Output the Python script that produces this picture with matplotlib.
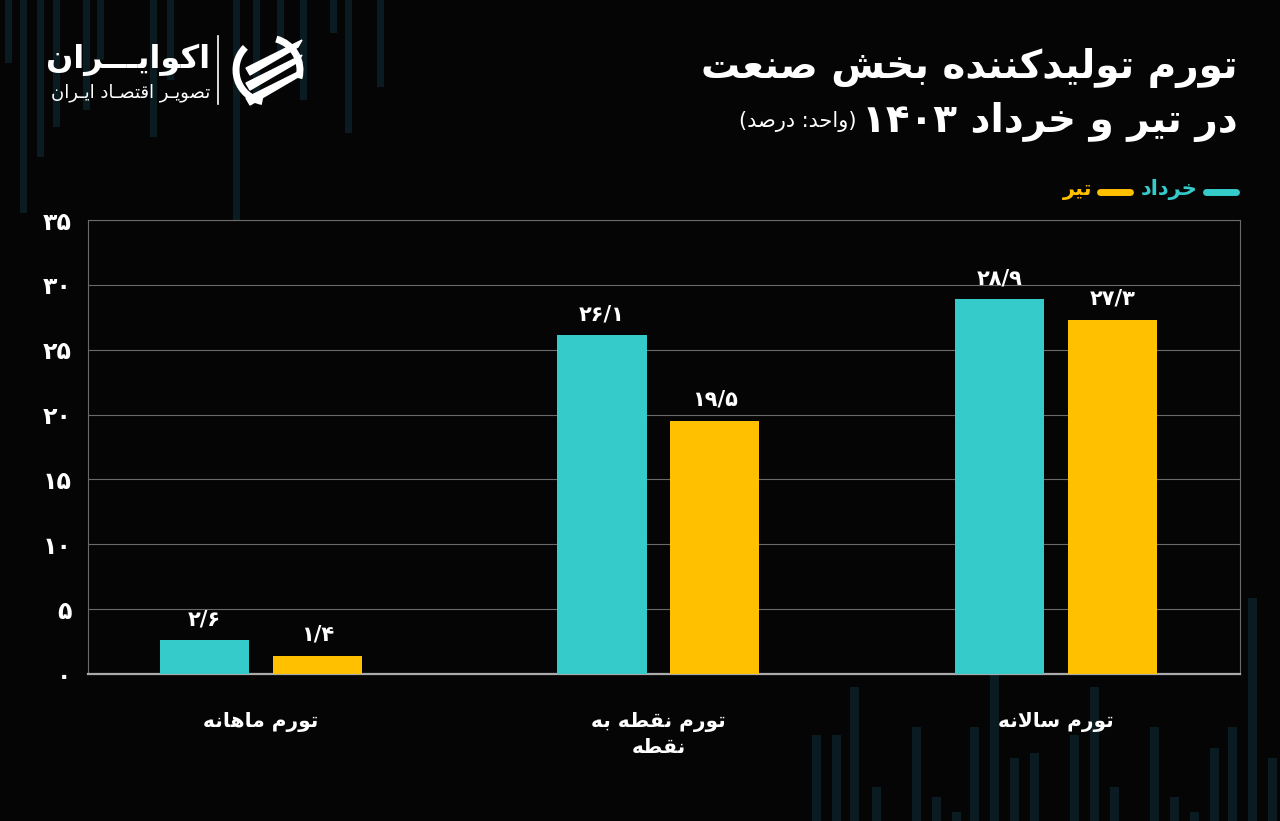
import re
import matplotlib
matplotlib.use('Agg')
import matplotlib.pyplot as plt
import numpy as np
from matplotlib.patches import Arc, Polygon

# ---- data ----
categories = ['تورم ماهانه', 'تورم نقطه به\nنقطه', 'تورم سالانه']
khordad = [2.6, 26.1, 28.9]
tir = [1.4, 19.5, 27.3]
yticks = [0, 5, 10, 15, 20, 25, 30, 35]
series_names = ['خرداد', 'تیر']
title1 = 'تورم تولیدکننده بخش صنعت'
title2 = 'در تیر و خرداد ۱۴۰۳'
unit_txt = '(واحد: درصد)'
logo_name = 'اکوایـــران'
logo_sub = 'تصویـر اقتصـاد ایـران'

# faint background candles (pixels): left x and bottom / top end
deco_top_x = [5, 20, 37, 53, 83, 97, 150, 167, 233, 253, 277, 300, 330, 345, 377]
deco_top_y = [63, 213, 157, 127, 110, 60, 137, 80, 220, 100, 57, 100, 33, 133, 87]
deco_bot_x = [812, 832, 850, 872, 912, 932, 952, 970, 990, 1010, 1030, 1070, 1090,
              1110, 1150, 1170, 1190, 1210, 1228, 1248, 1268]
deco_bot_y = [735, 735, 687, 787, 727, 797, 812, 727, 675, 758, 753, 735, 687,
              787, 727, 797, 812, 748, 727, 598, 758]

CYAN = '#35CBCB'
YELLOW = '#FFC000'
BG = '#050505'
DECO = '#0a1c22'

# ---- minimal Arabic/Persian shaping (no reshaper libs available) ----
F = {
    'ا': ('\uFE8D', '\uFE8E', None, None),
    'ب': ('\uFE8F', '\uFE90', '\uFE91', '\uFE92'),
    'ت': ('\uFE95', '\uFE96', '\uFE97', '\uFE98'),
    'ح': ('\uFEA1', '\uFEA2', '\uFEA3', '\uFEA4'),
    'خ': ('\uFEA5', '\uFEA6', '\uFEA7', '\uFEA8'),
    'د': ('\uFEA9', '\uFEAA', None, None),
    'ر': ('\uFEAD', '\uFEAE', None, None),
    'س': ('\uFEB1', '\uFEB2', '\uFEB3', '\uFEB4'),
    'ش': ('\uFEB5', '\uFEB6', '\uFEB7', '\uFEB8'),
    'ص': ('\uFEB9', '\uFEBA', '\uFEBB', '\uFEBC'),
    'ط': ('\uFEC1', '\uFEC2', '\uFEC3', '\uFEC4'),
    'ع': ('\uFEC9', '\uFECA', '\uFECB', '\uFECC'),
    'ق': ('\uFED5', '\uFED6', '\uFED7', '\uFED8'),
    'ل': ('\uFEDD', '\uFEDE', '\uFEDF', '\uFEE0'),
    'م': ('\uFEE1', '\uFEE2', '\uFEE3', '\uFEE4'),
    'ن': ('\uFEE5', '\uFEE6', '\uFEE7', '\uFEE8'),
    'ه': ('\uFEE9', '\uFEEA', '\uFEEB', '\uFEEC'),
    'و': ('\uFEED', '\uFEEE', None, None),
    'ک': ('\uFB8E', '\uFB8F', '\uFB90', '\uFB91'),
    'ی': ('\uFBFC', '\uFBFD', '\uFBFE', '\uFBFF'),
    'ـ': ('ـ', 'ـ', 'ـ', 'ـ'),
}


def fa_line(text):
    ch = list(text)
    res = []
    i = 0
    while i < len(ch):
        c = ch[i]
        prev = ch[i - 1] if i > 0 else None
        jp = c in F and prev in F and F[prev][2] is not None
        if c == 'ل' and i + 1 < len(ch) and ch[i + 1] == 'ا':
            res.append('\uFEFC' if jp else '\uFEFB')
            i += 2
            continue
        if c in F:
            f = F[c]
            nxt = ch[i + 1] if i + 1 < len(ch) else None
            jn = f[2] is not None and nxt in F
            if jp and jn:
                res.append(f[3])
            elif jp:
                res.append(f[1])
            elif jn:
                res.append(f[2])
            else:
                res.append(f[0])
        else:
            res.append(c)
        i += 1
    vis = ''.join(reversed(res))
    vis = re.sub(r'[۰-۹0-9/]+', lambda m: m.group(0)[::-1], vis)
    return vis.translate(str.maketrans('()', ')('))


def fa(text):
    return '\n'.join(fa_line(l) for l in text.split('\n'))


def fa_num(v, dec=True):
    s = f'{v:.1f}' if dec else str(v)
    return s.translate(str.maketrans('0123456789.', '۰۱۲۳۴۵۶۷۸۹/'))


plt.rcParams['font.family'] = ['DejaVu Sans']

W, H = 1280, 821
fig = plt.figure(figsize=(W / 100, H / 100), dpi=100, facecolor=BG)

# background layer in pixel coordinates
bg = fig.add_axes([0, 0, 1, 1])
bg.set_xlim(0, W)
bg.set_ylim(H, 0)
bg.axis('off')
bg.bar(deco_top_x, deco_top_y, width=7, bottom=0, align='edge', color=DECO, zorder=0)
bg.bar(deco_bot_x, [H - y for y in deco_bot_y], width=9, bottom=deco_bot_y, align='edge',
       color=DECO, zorder=0)

# ---- chart ----
ax = fig.add_axes([88 / W, 1 - 674 / H, 1152 / W, 454 / H])
ax.set_facecolor('none')
x = np.arange(len(categories))
bw = 0.224
off = 0.142
b1 = ax.bar(x - off, khordad, bw, color=CYAN, zorder=3)
b2 = ax.bar(x + off, tir, bw, color=YELLOW, zorder=3)
for bars, vals in ((b1, khordad), (b2, tir)):
    for r, v in zip(bars, vals):
        ax.annotate(fa_num(v), (r.get_x() + r.get_width() / 2, v), xytext=(0, 8),
                    textcoords='offset points', ha='center', va='bottom',
                    color='white', fontsize=15, fontweight='bold')

ax.set_xlim(-0.435, 2.463)
ax.set_ylim(0, 35)
ax.set_yticks(yticks)
ax.set_yticklabels([fa_num(t, dec=False) for t in yticks], color='white',
                   fontsize=17, fontweight='bold')
ax.set_xticks(x)
ax.set_xticklabels([fa(c) for c in categories], color='white', fontsize=14.5,
                   fontweight='bold', linespacing=1.45)
ax.tick_params(axis='y', length=0, pad=12)
ax.tick_params(axis='x', length=0, pad=27)
ax.grid(axis='y', color='#6a6a6a', linewidth=0.8, zorder=0)
for s in ax.spines.values():
    s.set_color('#6a6a6a')
    s.set_linewidth(0.8)
ax.spines['bottom'].set_color('#aaaaaa')
ax.spines['bottom'].set_linewidth(1.6)

# ---- titles ----
fig.text(1238 / W, 1 - 68 / H, fa(title1), ha='right', va='center', color='white',
         fontsize=28, fontweight='bold')
t2 = fig.text(1238 / W, 1 - 122 / H, fa(title2), ha='right', va='center', color='white',
              fontsize=28, fontweight='bold')
fig.canvas.draw()
bb = t2.get_window_extent()
fig.text((bb.x0 - 6) / W, 1 - 122 / H, fa(unit_txt), ha='right', va='center',
         color='white', fontsize=15)

# ---- legend ----
bg.plot([1206, 1236], [192, 192], color=CYAN, lw=5, solid_capstyle='round')
bg.text(1197, 190, fa(series_names[0]), ha='right', va='center', color=CYAN,
        fontsize=15, fontweight='bold')
bg.plot([1100, 1130], [192, 192], color=YELLOW, lw=5, solid_capstyle='round')
bg.text(1092, 190, fa(series_names[1]), ha='right', va='center', color=YELLOW,
        fontsize=15, fontweight='bold')

# ---- logo ----
bg.text(210, 60, fa(logo_name), ha='right', va='center', color='white',
        fontsize=23, fontweight='bold')
bg.text(210, 93, fa(logo_sub), ha='right', va='center', color='white', fontsize=13)
bg.plot([218, 218], [36, 104], color='white', lw=1.2)
cx, cy, rr = 268, 70, 32
bg.add_patch(Arc((cx, cy), 2 * rr, 2 * rr, theta1=100, theta2=225, color='white', lw=5))
bg.add_patch(Arc((cx, cy), 2 * rr, 2 * rr, theta1=285, theta2=15, color='white', lw=5))
for k in range(3):
    dy = k * 15
    bg.add_patch(Polygon([[246, 68 + dy], [302, 40 + dy], [298, 47 + dy], [250, 75 + dy]],
                         closed=True, color='white'))

fig.savefig('out.png', dpi=100, facecolor=BG)
